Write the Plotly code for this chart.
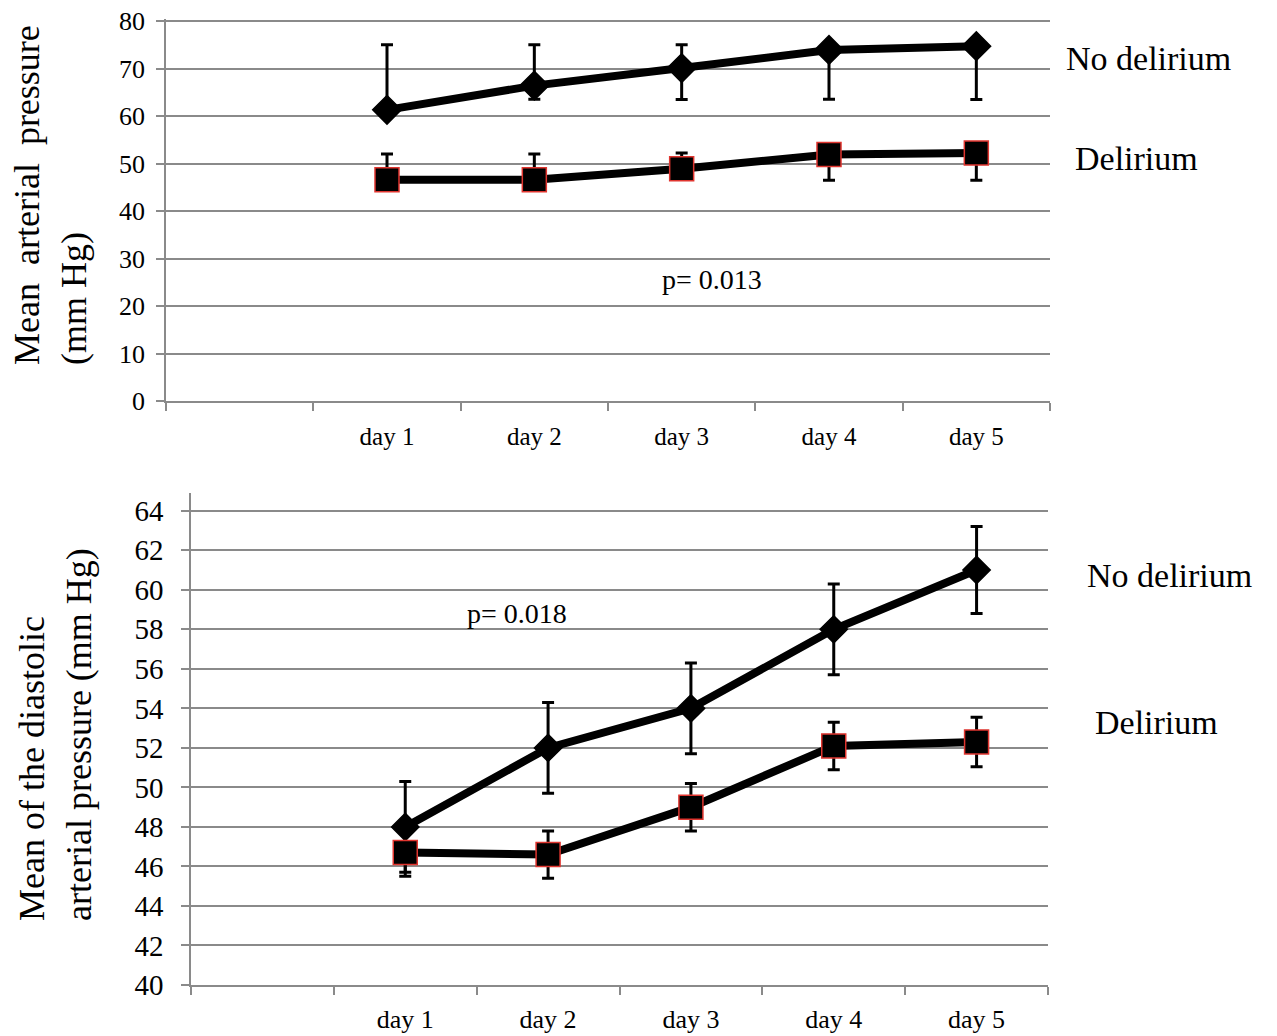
import plotly.graph_objects as go

W, H = 1277, 1036
OFF = 8  # page body margin offset in the browser

# ---------------- data ----------------
categories = [" ", "day 1", "day 2", "day 3", "day 4", "day 5"]
days = ["day 1", "day 2", "day 3", "day 4", "day 5"]

# Top panel: mean arterial pressure
map_no_delirium = [61.3, 66.4, 70.1, 73.9, 74.7]
map_no_delirium_plus = [13.7, 8.6, 4.9, 0.0, 0.0]
map_no_delirium_minus = [0.0, 2.9, 6.6, 10.4, 11.2]

map_delirium = [46.6, 46.6, 48.9, 51.9, 52.2]
map_delirium_plus = [5.4, 5.4, 3.3, 0.0, 0.0]
map_delirium_minus = [0.0, 0.0, 0.0, 5.4, 5.7]

# Bottom panel: mean diastolic arterial pressure
dap_no_delirium = [48.0, 52.0, 54.0, 58.0, 61.0]
dap_no_delirium_err = [2.3, 2.3, 2.3, 2.3, 2.2]

dap_delirium = [46.7, 46.6, 49.0, 52.1, 52.3]
dap_delirium_err = [1.2, 1.2, 1.2, 1.2, 1.25]

top_yticks = [0, 10, 20, 30, 40, 50, 60, 70, 80]
bottom_yticks = [40, 42, 44, 46, 48, 50, 52, 54, 56, 58, 60, 62, 64]

FONT = "Liberation Serif"
GRID = "#8a8a8a"
RED = "#e0352f"


def px_x(p):
    return (p - OFF) / W


def px_y(p):
    return 1 - (p - OFF) / H


fig = go.Figure()


def add_series(y, plus, minus, xa, ya, symbol, size, outline):
    fig.add_trace(go.Scatter(
        x=days, y=y, xaxis=xa, yaxis=ya, mode="lines+markers",
        line=dict(color="black", width=8),
        marker=dict(symbol=symbol, size=size, color="black",
                    line=dict(color=outline, width=1.5)),
        error_y=dict(type="data", symmetric=False, array=plus, arrayminus=minus,
                     color="black", thickness=3, width=6),
        showlegend=False, hoverinfo="skip", cliponaxis=False))


add_series(map_no_delirium, map_no_delirium_plus, map_no_delirium_minus,
           "x", "y", "diamond", 22, "black")
add_series(map_delirium, map_delirium_plus, map_delirium_minus,
           "x", "y", "square", 24, RED)
add_series(dap_no_delirium, dap_no_delirium_err, dap_no_delirium_err,
           "x2", "y2", "diamond", 21, "black")
add_series(dap_delirium, dap_delirium_err, dap_delirium_err,
           "x2", "y2", "square", 24, RED)

xaxis_common = dict(
    type="category", categoryorder="array", categoryarray=categories,
    range=[-0.5, 5.5], tickson="boundaries", ticks="outside", ticklen=8,
    tickcolor=GRID, tickwidth=1.5, showline=True, linecolor=GRID, linewidth=1.5,
    showgrid=False, zeroline=False, fixedrange=True, automargin=False,
    ticklabeloverflow="allow",
)
yaxis_common = dict(
    ticks="outside", ticklen=8, tickcolor=GRID, tickwidth=1.5, showline=True,
    linecolor=GRID, linewidth=1.5, showgrid=True, gridcolor=GRID, gridwidth=1.5,
    zeroline=False, automargin=False, fixedrange=True, ticklabeloverflow="allow",
)

fig.update_layout(
    width=W, height=H,
    margin=dict(l=0, r=0, t=0, b=0, pad=0, autoexpand=False),
    paper_bgcolor="white", plot_bgcolor="white",
    font=dict(family=FONT, color="black"),
    xaxis=dict(**xaxis_common, domain=[px_x(166), px_x(1050)], anchor="y",
               tickfont=dict(size=25, family=FONT), ticklabelstandoff=12),
    yaxis=dict(**yaxis_common, domain=[px_y(401), px_y(19.1)], anchor="x",
               range=[0, 80.4], tickvals=top_yticks,
               tickfont=dict(size=26, family=FONT), ticklabelstandoff=6),
    xaxis2=dict(**xaxis_common, domain=[px_x(191), px_x(1048)], anchor="y2",
                tickfont=dict(size=26, family=FONT), ticklabelstandoff=10),
    yaxis2=dict(**yaxis_common, domain=[px_y(985), px_y(493)], anchor="x2",
                range=[40, 64.9], tickvals=bottom_yticks,
                tickfont=dict(size=29, family=FONT), ticklabelstandoff=12),
)


def note(text, x, y, size, xanchor="left", angle=0, align="left"):
    fig.add_annotation(text=text, x=px_x(x), y=px_y(y), xref="paper", yref="paper",
                       xanchor=xanchor, yanchor="middle", showarrow=False,
                       textangle=angle, align=align,
                       font=dict(family=FONT, size=size, color="black"))


# Top panel labels
note("No delirium", 1064, 58, 34)
note("Delirium", 1073, 158, 34)
note("p= 0.013", 712, 280, 28, xanchor="center")
note("Mean\u00a0 arterial\u00a0 pressure<br>(mm Hg)", 50, 195, 36,
     xanchor="center", angle=-90)

# Bottom panel labels
note("No delirium", 1085, 575, 34)
note("Delirium", 1093, 722, 34)
note("p= 0.018", 517, 613, 28, xanchor="center")
note("Mean of the diastolic<br>arterial pressure (mm Hg)", 55, 735, 36,
     xanchor="center", angle=-90)

fig.write_html("out.html")
